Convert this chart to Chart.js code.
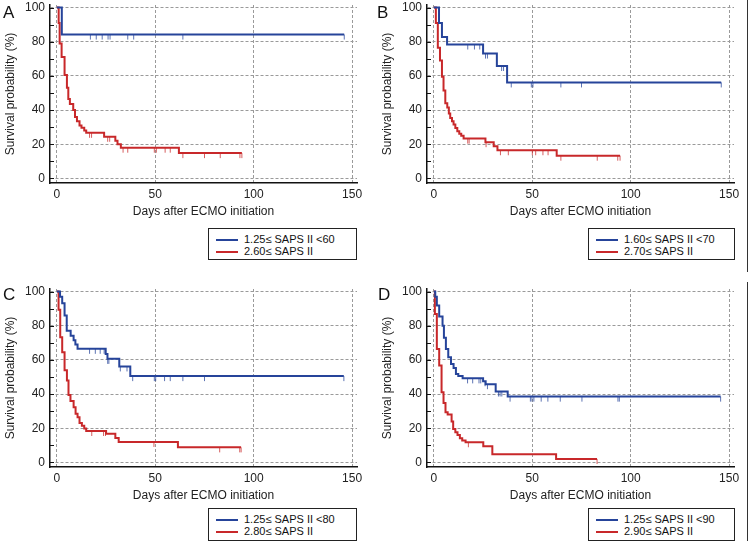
<!DOCTYPE html>
<html>
<head>
<meta charset="utf-8">
<script src="https://cdn.jsdelivr.net/npm/chart.js@4.4.1/dist/chart.umd.min.js"></script>
<style>
  body { margin: 0; background: #fff; width: 750px; height: 546px; position: relative; overflow: hidden;
         font-family: "Liberation Sans", Arial, sans-serif; }
  canvas { position: absolute; }
  .letter { position: absolute; font-size: 17px; color: #111; line-height: 1; }
  .legend { position: absolute; border: 1px solid #222; box-sizing: border-box; font-size: 11px; color: #111;
            padding: 4px 0 0 7px; background: #fff; }
  .legend div { height: 12px; line-height: 12px; white-space: nowrap; }
  .legend span { display: inline-block; width: 22px; height: 2px; vertical-align: middle; margin-right: 6px; }
  .vline { position: absolute; left: 747px; width: 1px; background: #333; }
</style>
</head>
<body>
<canvas id="chartA" width="375" height="222" style="left:0;top:0"></canvas>
<canvas id="chartB" width="375" height="222" style="left:375px;top:0"></canvas>
<canvas id="chartC" width="375" height="222" style="left:0;top:284px"></canvas>
<canvas id="chartD" width="375" height="222" style="left:375px;top:284px"></canvas>

<div class="letter" style="left:3px;top:4px">A</div>
<div class="letter" style="left:377px;top:4px">B</div>
<div class="letter" style="left:3px;top:286px">C</div>
<div class="letter" style="left:378px;top:286px">D</div>

<div class="vline" style="top:0;height:272px"></div>
<div class="vline" style="top:282px;height:259px"></div>

<div class="legend" id="legendA" style="left:208px;top:228px;width:149px;height:32px"></div>
<div class="legend" id="legendB" style="left:588px;top:228px;width:147px;height:32px"></div>
<div class="legend" id="legendC" style="left:208px;top:508px;width:149px;height:33px"></div>
<div class="legend" id="legendD" style="left:588px;top:508px;width:147px;height:33px"></div>

<script>
// Axis ticks
const xTicks = [0, 50, 100, 150];
const yTicks = [0, 20, 40, 60, 80, 100];
const yTickMarks = [0, 10, 20, 30, 40, 50, 60, 70, 80, 90, 100];

const blueColor = '#26449a';
const redColor = '#c8282a';

// Panel A
const aLegend = ['1.25\u2264 SAPS II <60', '2.60\u2264 SAPS II'];
const aBlueT = [0, 2.5, 146];
const aBlueS = [100, 84.2, 84.2];
const aBlueCens = [17, 20, 23, 26, 27, 36, 39, 64, 146];
const aRedT = [0, 0.9, 1.4, 2.4, 3.9, 5.1, 5.8, 6.6, 8.3, 9.2, 10.2, 11.5, 12.5, 13.9, 14.9, 24, 29.7, 30.8, 32.5, 62, 94];
const aRedS = [100, 91, 79, 71, 60.5, 53, 46.5, 43.5, 40, 36, 33.5, 31, 29.7, 28, 26.7, 24.4, 22, 20, 18, 14.8, 14.8];
const aRedCens = [16.6, 17.6, 25.8, 26.8, 33.6, 36, 49.5, 50.5, 55, 57.6, 64, 75, 83, 93, 94];

// Panel B
const bLegend = ['1.60\u2264 SAPS II <70', '2.70\u2264 SAPS II'];
const bBlueT = [0, 2.6, 4.1, 6.7, 25, 32, 37.2, 146];
const bBlueS = [100, 91, 82.8, 78.4, 73.1, 65.8, 56.2, 56.2];
const bBlueCens = [17.2, 20.6, 23.3, 26.2, 27.2, 34.4, 35.4, 39.3, 49.5, 50.3, 64.5, 75, 146];
const bRedT = [0, 1, 2, 3.1, 4.1, 4.9, 5.8, 6.8, 7.6, 8.3, 9.2, 10, 10.9, 11.9, 12.9, 13.9, 15.1, 26.2, 30.4, 32.3, 62.4, 94.6];
const bRedS = [100, 91, 76.5, 69, 59.5, 51.5, 44, 41.5, 38, 35.3, 33.4, 31.5, 29.5, 27.6, 26.2, 25, 23.3, 21.2, 18.8, 16.5, 13.3, 13.3];
const bRedCens = [17.2, 17.9, 26.5, 33.8, 37.8, 50, 51.7, 55.4, 58, 64.5, 83, 93.4, 94.6];

// Panel C
const cLegend = ['1.25\u2264 SAPS II <80', '2.80\u2264 SAPS II'];
const cBlueT = [0, 1.6, 2.7, 3.9, 5, 7, 8.5, 9.4, 10.5, 24.8, 25.7, 31.7, 37.3, 145.8];
const cBlueS = [100, 96.9, 93.2, 86, 77, 74.2, 71.5, 69, 66.5, 63.5, 60.6, 56.2, 50.5, 50.5];
const cBlueCens = [16.6, 19.5, 22, 24, 25.8, 26.4, 32.2, 35.6, 38.5, 49.5, 50.2, 54.7, 57.6, 64, 75, 145.8];
const cRedT = [0, 0.85, 1.7, 2.7, 3.9, 5.1, 5.9, 6.9, 8.5, 9.5, 10.5, 11.5, 12.7, 13.9, 14.9, 25, 29.7, 31.4, 61.5, 93.6];
const cRedS = [100, 89.3, 73.3, 64.5, 54, 48, 39.5, 36, 32.3, 28.4, 26.4, 23.1, 21.4, 19.8, 18.4, 16.8, 14.3, 12, 8.8, 8.8];
const cRedCens = [17.7, 23.7, 24.7, 49.3, 82.7, 92.9, 93.6];

// Panel D
const dLegend = ['1.25\u2264 SAPS II <90', '2.90\u2264 SAPS II'];
const dBlueT = [0, 0.7, 1.5, 2.7, 4.4, 5.1, 6.1, 7.3, 8.7, 10, 11.2, 12.4, 14.6, 25, 26.3, 31.4, 37.5, 145.7];
const dBlueS = [100, 97, 91.8, 85.4, 80, 72.9, 66.4, 61.6, 57.6, 55.2, 51.8, 50.6, 49.2, 47.5, 45.8, 41.5, 38.5, 38.5];
const dBlueCens = [17.1, 19.7, 22.9, 23.8, 26, 27.2, 32.8, 33.6, 34.5, 38.7, 49, 49.8, 50.8, 54.5, 57.9, 64.2, 75.2, 93.5, 94.2, 145.7];
const dRedT = [0, 0.5, 1.5, 2.7, 3.9, 4.9, 5.9, 7, 9, 9.8, 10.9, 12, 13.2, 14.4, 16.1, 25.1, 29.7, 62.1, 82.9];
const dRedS = [100, 86.8, 66.4, 56.7, 41.1, 34.8, 29.4, 28, 24, 19.6, 17.7, 16, 14.1, 12.8, 11.8, 9.5, 4.8, 2, 2];
const dRedCens = [17.5, 82.9];

Chart.defaults.font.family = '"Liberation Sans", Arial, sans-serif';
Chart.defaults.font.size = 12;
Chart.defaults.color = '#222';

// Small tick image hanging below the curve for censored cases
function censorMark(color) {
  const c = document.createElement('canvas');
  c.width = 3;
  c.height = 12;
  const g = c.getContext('2d');
  g.strokeStyle = color;
  g.globalAlpha = 0.75;
  g.lineWidth = 1;
  g.beginPath();
  g.moveTo(1.5, 6);
  g.lineTo(1.5, 11);
  g.stroke();
  return c;
}

function stepPoints(t, s) {
  return t.map((x, i) => ({ x: x, y: s[i] }));
}

// y of a censor tick = level of the step curve at that time
function censorPoints(cens, t, s) {
  return cens.map(c => {
    let i = 0;
    while (i + 1 < t.length && t[i + 1] <= c) i++;
    return { x: c, y: s[i] };
  });
}

const tickMarks = {
  id: 'tickMarks',
  afterDraw(chart) {
    const { ctx, chartArea, scales } = chart;
    ctx.save();
    ctx.strokeStyle = '#111';
    ctx.lineWidth = 1;
    yTickMarks.forEach(v => {
      const py = Math.round(scales.y.getPixelForValue(v)) + 0.5;
      ctx.beginPath();
      ctx.moveTo(chartArea.left, py);
      ctx.lineTo(chartArea.left + 4, py);
      ctx.stroke();
    });
    ctx.restore();
  }
};

function makePanel(id, padLeft, padRight, blueT, blueS, blueCens, redT, redS, redCens) {
  const ctx = document.getElementById(id).getContext('2d');
  return new Chart(ctx, {
    type: 'line',
    data: {
      datasets: [
        {
          data: stepPoints(blueT, blueS),
          borderColor: blueColor,
          borderWidth: 2,
          stepped: 'before',
          pointRadius: 0
        },
        {
          data: censorPoints(blueCens, blueT, blueS),
          showLine: false,
          pointStyle: censorMark(blueColor),
          pointRadius: 3
        },
        {
          data: stepPoints(redT, redS),
          borderColor: redColor,
          borderWidth: 2,
          stepped: 'before',
          pointRadius: 0
        },
        {
          data: censorPoints(redCens, redT, redS),
          showLine: false,
          pointStyle: censorMark(redColor),
          pointRadius: 3
        }
      ]
    },
    options: {
      responsive: false,
      animation: false,
      devicePixelRatio: 1,
      layout: { padding: { left: padLeft, right: padRight, top: 5, bottom: 0 } },
      plugins: {
        legend: { display: false },
        tooltip: { enabled: false }
      },
      scales: {
        x: {
          type: 'linear',
          min: -3.5,
          max: 152.5,
          afterBuildTicks: axis => { axis.ticks = xTicks.map(v => ({ value: v })); },
          afterFit: scale => { scale.height = 39; scale.paddingLeft = 0; scale.paddingRight = 0; },
          grid: { color: '#9a9a9a', lineWidth: 1, drawTicks: false },
          border: { display: true, color: '#111', width: 1.5, dash: [3, 2] },
          ticks: { padding: 4, color: '#222', maxRotation: 0 },
          title: {
            display: true,
            text: 'Days after ECMO initiation',
            color: '#222',
            font: { size: 12 },
            padding: { top: 0, bottom: 2.8 }
          }
        },
        y: {
          type: 'linear',
          min: -2.7,
          max: 101.5,
          afterBuildTicks: axis => { axis.ticks = yTicks.map(v => ({ value: v })); },
          afterFit: scale => { scale.width = 50; scale.paddingTop = 0; scale.paddingBottom = 0; },
          grid: { color: '#9a9a9a', lineWidth: 1, drawTicks: false },
          border: { display: true, color: '#111', width: 1.5, dash: [3, 2] },
          ticks: { padding: 5, color: '#222' },
          title: {
            display: true,
            text: 'Survival probability (%)',
            color: '#222',
            font: { size: 12 },
            padding: { top: 3.4, bottom: 0 }
          }
        }
      }
    },
    plugins: [tickMarks]
  });
}

function makeLegend(id, labels) {
  const el = document.getElementById(id);
  const colors = [blueColor, redColor];
  labels.forEach((label, i) => {
    const row = document.createElement('div');
    const swatch = document.createElement('span');
    swatch.style.background = colors[i];
    row.appendChild(swatch);
    row.appendChild(document.createTextNode(label));
    el.appendChild(row);
  });
}

makePanel('chartA', 0, 18, aBlueT, aBlueS, aBlueCens, aRedT, aRedS, aRedCens);
makePanel('chartB', 2, 16, bBlueT, bBlueS, bBlueCens, bRedT, bRedS, bRedCens);
makePanel('chartC', 0, 18, cBlueT, cBlueS, cBlueCens, cRedT, cRedS, cRedCens);
makePanel('chartD', 2, 16, dBlueT, dBlueS, dBlueCens, dRedT, dRedS, dRedCens);

makeLegend('legendA', aLegend);
makeLegend('legendB', bLegend);
makeLegend('legendC', cLegend);
makeLegend('legendD', dLegend);
</script>
</body>
</html>
